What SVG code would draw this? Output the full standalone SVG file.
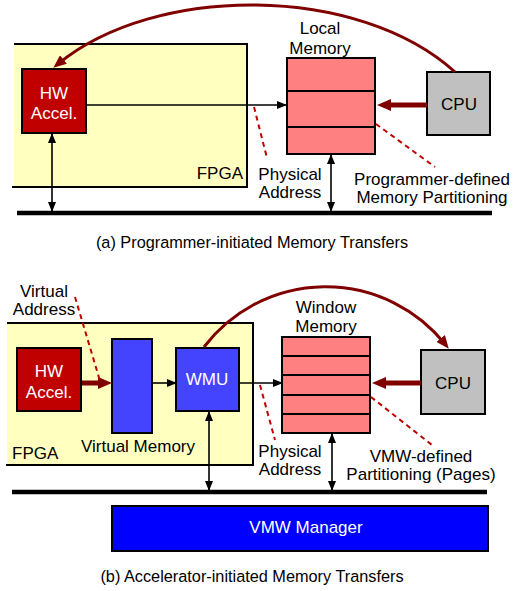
<svg xmlns="http://www.w3.org/2000/svg" width="521" height="591" viewBox="0 0 521 591">
<style>
text{font-family:"Liberation Sans",Arial,sans-serif;font-size:17px;fill:#000}
.c{text-anchor:middle}
.w{fill:#fff}
.cap{font-size:16.3px}
.box{stroke:#000;stroke-width:2}
.fpga{fill:#FFFFC0}
.fpgab{fill:none;stroke:#000;stroke-width:2}
.acc{fill:#C00000}
.mem{fill:#FF8080}
.cpu{fill:#C0C0C0}
.blue{fill:#4444FF}
.div{stroke:#000;stroke-width:2}
.thin{stroke:#000;stroke-width:1.6;fill:none}
.bus{stroke:#000;stroke-width:4.5}
.thick{stroke:#800000;stroke-width:5;fill:none}
.curve{stroke:#800000;stroke-width:3;fill:none}
.dash{stroke:#C00000;stroke-width:2;stroke-dasharray:5,4;fill:none}
</style>
<defs>
<marker id="ah" viewBox="0 0 10 8" refX="9" refY="4" markerWidth="10" markerHeight="8" markerUnits="userSpaceOnUse" orient="auto-start-reverse"><path d="M0,0 L10,4 L0,8 z" fill="#000"/></marker>
<marker id="ahRed" viewBox="0 0 14 12" refX="4" refY="6" markerWidth="14" markerHeight="12" markerUnits="userSpaceOnUse" orient="auto"><path d="M0,0 L14,6 L0,12 z" fill="#800000"/></marker>
<marker id="ahCurve" viewBox="0 0 13 11" refX="7" refY="5.5" markerWidth="13" markerHeight="11" markerUnits="userSpaceOnUse" orient="auto"><path d="M0,0 L13,5.5 L0,11 z" fill="#800000"/></marker>
</defs>

<!-- (a) -->
<g id="fpga-a">
<rect class="fpga" x="14" y="44" width="233" height="143"/>
<path class="fpgab" d="M14,44 H247 V187 H12"/>
<text x="243" y="179" text-anchor="end">FPGA</text>
</g>
<g id="hw-accel-a">
<rect class="acc box" x="22" y="69" width="64" height="64"/>
<text class="c w" x="54" y="99">HW</text>
<text class="c w" x="54" y="119">Accel.</text>
</g>
<g id="local-memory">
<rect class="mem box" x="287" y="58" width="88" height="96"/>
<line class="div" x1="287" y1="91" x2="375" y2="91"/>
<line class="div" x1="287" y1="127" x2="375" y2="127"/>
<text class="c" x="320" y="34">Local</text>
<text class="c" x="320" y="54">Memory</text>
</g>
<g id="cpu-a">
<rect class="cpu box" x="427" y="72" width="63" height="63"/>
<text class="c" x="459" y="110">CPU</text>
</g>
<g id="bus-a"><line class="bus" x1="17" y1="213" x2="492" y2="213"/></g>
<g id="labels-a">
<text class="c" x="290" y="180">Physical</text>
<text class="c" x="290" y="198">Address</text>
<text class="c" x="432" y="185">Programmer-defined</text>
<text class="c" x="432" y="203">Memory Partitioning</text>
<text class="c cap" x="252" y="248">(a) Programmer-initiated Memory Transfers</text>
</g>

<!-- (b) -->
<g id="fpga-b">
<rect class="fpga" x="7" y="323" width="246" height="142"/>
<path class="fpgab" d="M7,323 H253 V465 H6"/>
<text x="12" y="459">FPGA</text>
</g>
<g id="hw-accel-b">
<rect class="acc box" x="17" y="348" width="64" height="63"/>
<text class="c w" x="49" y="377">HW</text>
<text class="c w" x="49" y="398">Accel.</text>
</g>
<g id="virtual-memory">
<rect class="blue box" x="112" y="339" width="40" height="94"/>
<text class="c" x="138" y="452">Virtual Memory</text>
</g>
<g id="wmu">
<rect class="blue box" x="176" y="348" width="63" height="63"/>
<text class="c w" x="207" y="385">WMU</text>
</g>
<g id="window-memory">
<rect class="mem box" x="282" y="337" width="88" height="96"/>
<line class="div" x1="282" y1="356" x2="370" y2="356"/>
<line class="div" x1="282" y1="375" x2="370" y2="375"/>
<line class="div" x1="282" y1="395" x2="370" y2="395"/>
<line class="div" x1="282" y1="414" x2="370" y2="414"/>
<text class="c" x="326" y="313">Window</text>
<text class="c" x="326" y="332">Memory</text>
</g>
<g id="cpu-b">
<rect class="cpu box" x="421" y="350" width="64" height="64"/>
<text class="c" x="453" y="389">CPU</text>
</g>
<g id="bus-b"><line class="bus" x1="12" y1="492" x2="487" y2="492"/></g>
<g id="vmw-manager">
<rect class="box" fill="#0000FF" x="112" y="506" width="376" height="45"/>
<text class="c w" x="306" y="533">VMW Manager</text>
</g>
<g id="labels-b">
<text class="c" x="44" y="297">Virtual</text>
<text class="c" x="44" y="315">Address</text>
<text class="c" x="290" y="457">Physical</text>
<text class="c" x="290" y="475">Address</text>
<text class="c" x="421" y="462">VMW-defined</text>
<text class="c" x="421" y="480">Partitioning (Pages)</text>
<text class="c cap" x="252" y="582">(b) Accelerator-initiated Memory Transfers</text>
</g>

<g id="connectors">
<!-- (a) -->
<path class="curve" d="M455,72 C358,-16 155,-16 58,64" marker-end="url(#ahCurve)"/>
<line class="thin" x1="87" y1="105" x2="286" y2="105" marker-end="url(#ah)"/>
<line class="thick" x1="427" y1="105" x2="387" y2="105" marker-end="url(#ahRed)"/>
<line class="thin" x1="52" y1="134" x2="52" y2="211" marker-start="url(#ah)" marker-end="url(#ah)"/>
<line class="thin" x1="331" y1="155" x2="331" y2="211" marker-start="url(#ah)" marker-end="url(#ah)"/>
<line class="dash" x1="254" y1="107" x2="267" y2="158"/>
<line class="dash" x1="376" y1="124" x2="435" y2="167"/>
<!-- (b) -->
<path class="curve" d="M204,347 A153,153 0 0 1 445,344" marker-end="url(#ahCurve)"/>
<line class="thick" x1="82" y1="383" x2="102" y2="383" marker-end="url(#ahRed)"/>
<line class="thin" x1="153" y1="383" x2="176" y2="383" marker-end="url(#ah)"/>
<line class="thin" x1="240" y1="383" x2="282" y2="383" marker-end="url(#ah)"/>
<line class="thick" x1="421" y1="383" x2="382" y2="383" marker-end="url(#ahRed)"/>
<line class="thin" x1="209" y1="412" x2="209" y2="490" marker-start="url(#ah)" marker-end="url(#ah)"/>
<line class="thin" x1="332" y1="434" x2="332" y2="490" marker-start="url(#ah)" marker-end="url(#ah)"/>
<line class="dash" x1="75" y1="297" x2="100" y2="381"/>
<line class="dash" x1="260" y1="385" x2="275" y2="440"/>
<line class="dash" x1="371" y1="397" x2="432" y2="445"/>
</g>
</svg>
